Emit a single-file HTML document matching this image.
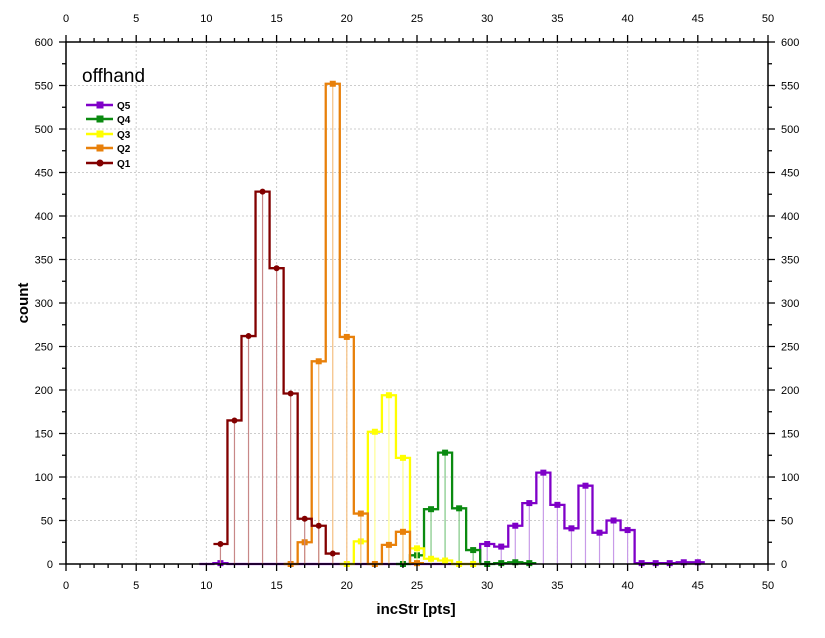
<!DOCTYPE html>
<html><head><meta charset="utf-8"><style>
body{margin:0;background:#fff;}
svg{display:block;font-family:"Liberation Sans",sans-serif;}
</style></head><body>
<svg id="s" width="825" height="638" viewBox="0 0 825 638">
<g id="grid"></g>
<g id="data"></g>
<rect x="66" y="42" width="702" height="522" fill="none" stroke="#000" stroke-width="1.5"/>
<g id="ticks" stroke="#000" stroke-width="1.3"></g>
<g id="labels" font-size="11" fill="#000"></g>
<text x="82" y="82" font-size="19">offhand</text>
<g font-size="10" font-weight="bold">
<line x1="86" y1="105" x2="113" y2="105" stroke="#7f00c8" stroke-width="2.5"/><rect x="96.5" y="101.5" width="7" height="7" fill="#7f00c8"/><text x="117" y="109">Q5</text>
<line x1="86" y1="119" x2="113" y2="119" stroke="#0a8a10" stroke-width="2.5"/><rect x="96.5" y="115.5" width="7" height="7" fill="#0a8a10"/><text x="117" y="123">Q4</text>
<line x1="86" y1="134" x2="113" y2="134" stroke="#ffff00" stroke-width="2.5"/><rect x="96.5" y="130.5" width="7" height="7" fill="#ffff00"/><text x="117" y="138">Q3</text>
<line x1="86" y1="148" x2="113" y2="148" stroke="#e8800a" stroke-width="2.5"/><rect x="96.5" y="144.5" width="7" height="7" fill="#e8800a"/><text x="117" y="152">Q2</text>
<line x1="86" y1="163" x2="113" y2="163" stroke="#820000" stroke-width="2.5"/><circle cx="100" cy="163" r="3.5" fill="#820000"/><text x="117" y="167">Q1</text>
</g>
<text x="416" y="614" font-size="15" font-weight="bold" text-anchor="middle">incStr [pts]</text>
<text transform="translate(28,303) rotate(-90)" font-size="15" font-weight="bold" text-anchor="middle">count</text>
</svg>
<script>
var NS="http://www.w3.org/2000/svg";
function X(v){return 66+14.04*v;}function Y(c){return 564-0.87*c;}
function el(p,t,a,txt){var e=document.createElementNS(NS,t);for(var k in a)e.setAttribute(k,a[k]);if(txt!==undefined)e.textContent=txt;document.getElementById(p).appendChild(e);return e;}
for(var v=0;v<=50;v++){var x=X(v);
 if(v%5==0&&v>0&&v<50)el("grid","line",{x1:x,y1:42,x2:x,y2:564,stroke:"#ccc","stroke-dasharray":"2,2"});
 var L=v%5==0?7:4;
 el("ticks","line",{x1:x,y1:564,x2:x,y2:564+L});el("ticks","line",{x1:x,y1:42,x2:x,y2:42-L});
 if(v%5==0){el("labels","text",{x:x,y:589,"text-anchor":"middle"},v);el("labels","text",{x:x,y:22,"text-anchor":"middle"},v);}
}
for(var c=0;c<=600;c+=25){var y=Y(c);var L=c%50==0?7:4;
 if(c%50==0&&c>0&&c<600)el("grid","line",{x1:66,y1:y,x2:768,y2:y,stroke:"#ccc","stroke-dasharray":"2,2"});
 el("ticks","line",{x1:66,y1:y,x2:66-L,y2:y});el("ticks","line",{x1:768,y1:y,x2:768+L,y2:y});
 if(c%50==0){el("labels","text",{x:53,y:y+4,"text-anchor":"end"},c);el("labels","text",{x:781,y:y+4},c);}
}
var S=[
 {c:"#7f00c8",l:"#c89be8",sq:1,s:10,m:[11,30,31,32,33,34,35,36,37,38,39,40,41,42,43,44,45],d:[0,1,0,0,0,0,0,0,0,0,0,0,0,0,0,0,0,0,0,0,23,20,44,70,105,68,41,90,36,50,39,1,1,1,2,2]},
 {c:"#0a8a10",l:"#7fc884",sq:1,s:24,d:[0,10,63,128,64,16,0,1,2,1]},
 {c:"#ffff00",l:"#ffff90",sq:1,s:20,d:[0,26,152,194,122,18,6,4,0,0]},
 {c:"#e8800a",l:"#f4bf80",sq:1,s:16,d:[0,25,233,552,261,58,0,22,37,1]},
 {c:"#820000",l:"#c88888",sq:0,s:11,d:[23,165,262,428,340,196,52,44,12]}
];
S.forEach(function(o){var p="";
 o.d.forEach(function(c,i){var v=o.s+i;p+=(i?"L":"M")+X(v-0.5)+","+Y(c)+"L"+X(v+0.5)+","+Y(c);});
 o.d.forEach(function(c,i){var v=o.s+i;if(c>0)el("data","line",{x1:X(v),y1:Y(c),x2:X(v),y2:564,stroke:o.l,"stroke-width":1.2});});
 el("data","path",{d:p,fill:"none",stroke:o.c,"stroke-width":2.3});
 o.d.forEach(function(c,i){var v=o.s+i;if(o.m&&o.m.indexOf(v)<0)return;if(o.sq)el("data","rect",{x:X(v)-3,y:Y(c)-3,width:6,height:6,fill:o.c});else el("data","circle",{cx:X(v),cy:Y(c),r:3,fill:o.c});});
});
</script>
</body></html>
